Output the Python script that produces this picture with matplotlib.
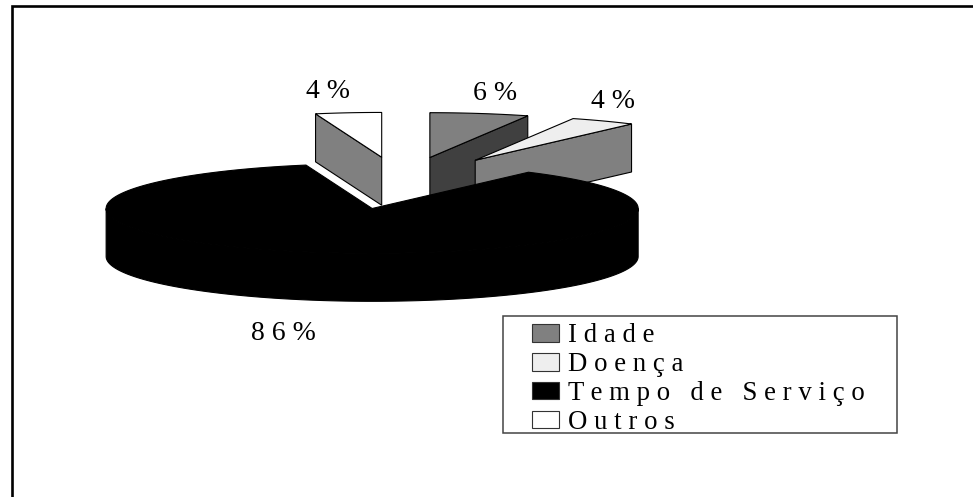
import numpy as np
import matplotlib
matplotlib.use("Agg")
import matplotlib.pyplot as plt
from matplotlib.patches import Polygon, Patch, Rectangle

categories = ["Idade", "Doença", "Tempo de Serviço", "Outros"]
values = [6, 4, 86, 4]
pct_labels = ["6 %", "4 %", "8 6 %", "4 %"]
legend_labels = ["I d a d e", "D o e n ç a", "T e m p o   d e   S e r v i ç o", "O u t r o s"]
top_colors = ["#808080", "#eeeeee", "#000000", "#ffffff"]
side_colors = ["#404040", "#808080", "#000000", "#808080"]

W, H = 973, 497
CX, CY, RX, TILT, DEPTH, EXPLODE = 401, 183, 266, 0.1685, 48, 154

plt.rcParams["font.family"] = ["Liberation Serif", "DejaVu Serif"]
fig = plt.figure(figsize=(W / 100, H / 100), dpi=100)
ax = fig.add_axes([0, 0, 1, 1])
ax.set_xlim(0, W)
ax.set_ylim(H, 0)
ax.axis("off")

# page frame: only the left and top rules show in the reference
ax.plot([11.5, 11.5, W], [H, 6, 6], color="black", lw=1.9, solid_joinstyle="miter", zorder=1)

fracs = np.array(values) / sum(values)
edges = np.concatenate([[0], np.cumsum(fracs)]) * 2 * np.pi


def pt(ox, oy, a, r=RX):
    return ox + r * np.sin(a), oy - r * TILT * np.cos(a)


def draw_slice(i):
    a0, a1 = edges[i], edges[i + 1]
    mid = (a0 + a1) / 2
    ox, oy = pt(CX, CY, mid, EXPLODE)
    ts = np.linspace(a0, a1, 300)
    xs, ys = pt(ox, oy, ts)
    top = np.column_stack([np.r_[ox, xs], np.r_[oy, ys]])
    if i == 2:
        # visible outer wall between the left and right extremes of the ellipse
        t = np.linspace(np.pi / 2, 3 * np.pi / 2, 300)
        wx, wy = pt(ox, oy, t)
        wall = np.column_stack([np.r_[wx, wx[::-1]], np.r_[wy, wy[::-1] + DEPTH]])
        ax.add_patch(Polygon(wall, fc=side_colors[i], ec="black", lw=0.8, zorder=10))
        ax.add_patch(Polygon(top, fc=top_colors[i], ec="black", lw=0.8, zorder=10))
        return
    # radial side face that looks towards the viewer
    a_vis = a1 if i < 2 else a0
    vx, vy = pt(ox, oy, a_vis)
    face = [(ox, oy), (vx, vy), (vx, vy + DEPTH), (ox, oy + DEPTH)]
    ax.add_patch(Polygon(face, fc=side_colors[i], ec="black", lw=0.8, zorder=5 + i))
    ax.add_patch(Polygon(top, fc=top_colors[i], ec="black", lw=0.8, zorder=5 + i))


for i in [3, 0, 1, 2]:
    draw_slice(i)

label_pos = [(495, 93), (613, 101), (283, 333), (328, 91)]
for s, (x, y) in zip(pct_labels, label_pos):
    ax.text(x, y, s, ha="center", va="center", fontsize=20, color="black", zorder=20)

# legend frame, then a frameless legend placed inside it
ax.add_patch(Rectangle((502.7, 315.7), 394, 117.6, fc="white", ec="#444444", lw=1.1, zorder=25))
handles = [Patch(fc=c, ec="#333333", lw=0.8) for c in top_colors]
leg = ax.legend(
    handles, legend_labels,
    loc="upper left", bbox_to_anchor=(532 / W, 1 - 323.5 / H), bbox_transform=ax.transAxes,
    fontsize=19.3, frameon=False,
    borderaxespad=0, borderpad=0, labelspacing=0.14, handlelength=1.0, handleheight=0.62,
    handletextpad=0.33,
)
leg.set_zorder(30)

fig.savefig("out.png", dpi=100, facecolor="white")
